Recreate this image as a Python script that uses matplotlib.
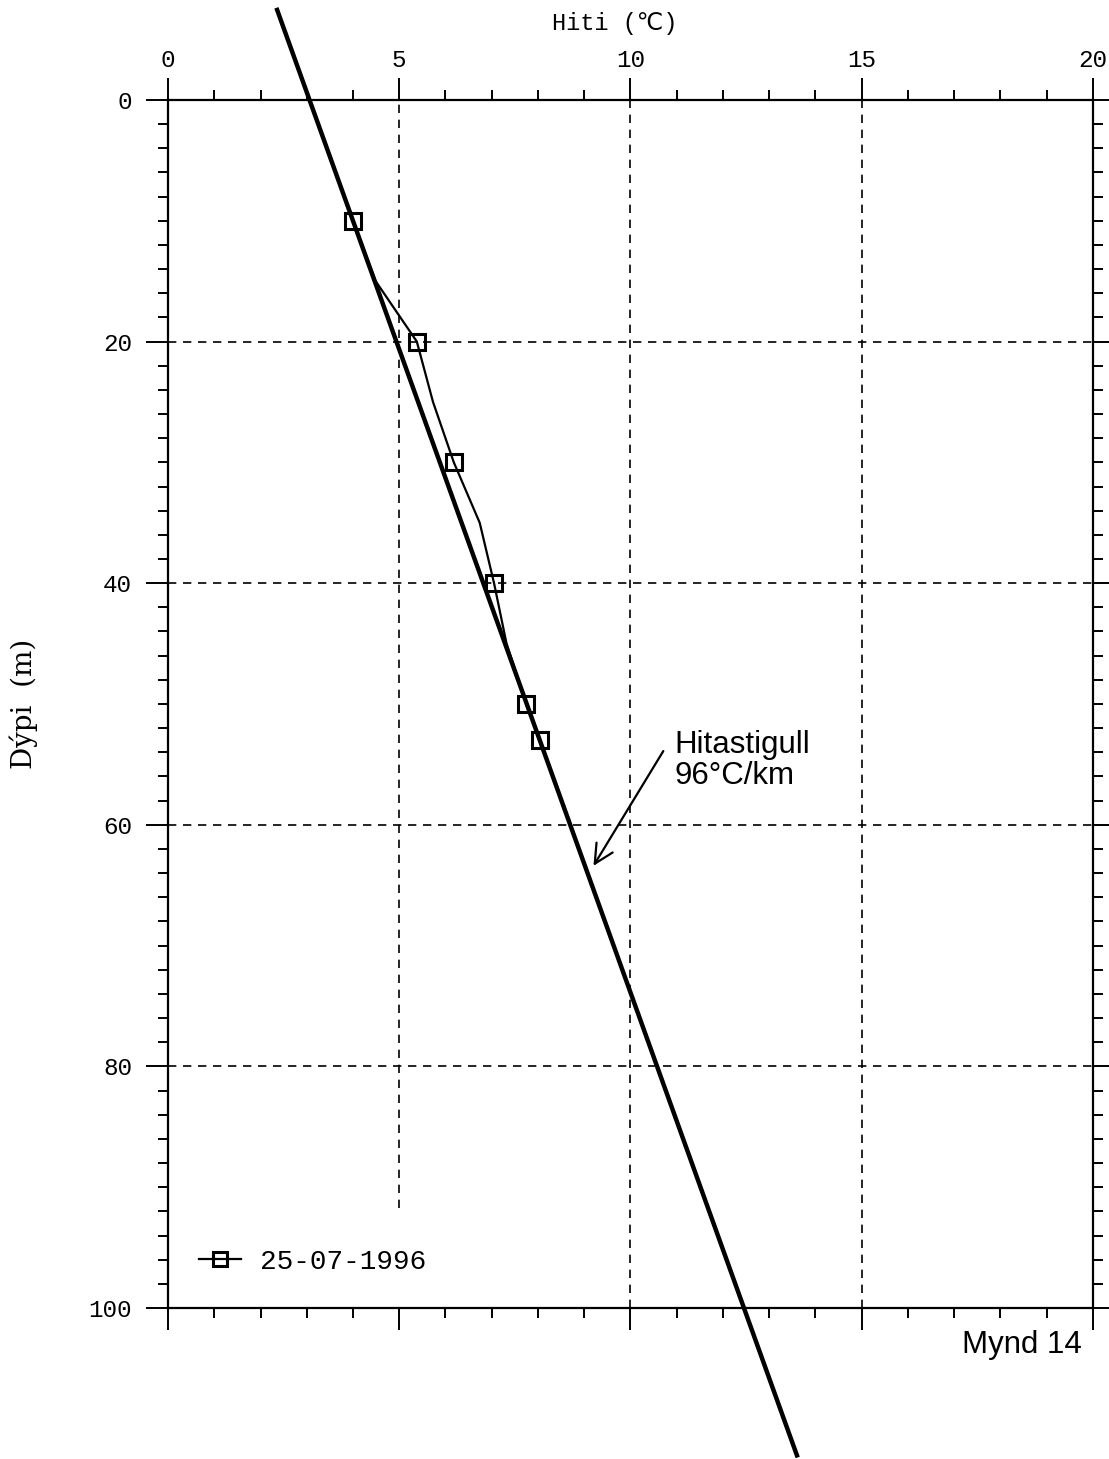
import matplotlib
matplotlib.use("Agg")
import matplotlib.pyplot as plt
from matplotlib.ticker import MultipleLocator

# measured temperature log (depth m, temperature degC)
depth_line = [10, 15, 20, 25, 30, 35, 40, 45, 50, 53]
temp_line = [4.00, 4.49, 5.38, 5.73, 6.18, 6.74, 7.05, 7.32, 7.75, 8.05]
depth_pts = [10, 20, 30, 40, 50, 53]
temp_pts = [4.00, 5.38, 6.18, 7.05, 7.75, 8.05]

# gradient line (96 C/km), end points
grad_depth = [-7.45, 112.2]
grad_temp = [2.36, 13.6]

x_ticks = [0, 5, 10, 15, 20]
y_ticks = [0, 20, 40, 60, 80, 100]
x_grid = [5, 10, 15]
y_grid = [20, 40, 60, 80]

mono = ["Liberation Mono", "DejaVu Sans Mono", "DejaVu Sans"]

fig = plt.figure(figsize=(11.09, 14.59), dpi=100)
ax = fig.add_axes([0.1515, 0.1035, 0.834, 0.828])

ax.set_xlim(0, 20)
ax.set_ylim(100, 0)

# grid (the 5 degree line stops above the legend)
for x in x_grid:
    top = 0.083 if x == 5 else 0.0
    ax.axvline(x, ymin=top, ymax=1, color="black", lw=1.2, ls=(0, (5, 4)), zorder=1)
for y in y_grid:
    ax.axhline(y, color="black", lw=1.2, ls=(0, (5, 4)), zorder=1)

# gradient line
ax.plot(grad_temp, grad_depth, color="black", lw=3.2, clip_on=False, zorder=3)

# measured data
ax.plot(temp_line, depth_line, color="black", lw=1.6, zorder=4)
ax.plot(temp_pts, depth_pts, ls="none", marker="s", ms=11, mfc="none",
        mec="black", mew=2.2, zorder=5)
h, = ax.plot([], [], color="black", lw=1.6, marker="s", ms=10, mfc="none",
             mec="black", mew=2.2)
leg = ax.legend([h], ["25-07-1996"], loc="center left",
                bbox_to_anchor=(0.019, 0.038), frameon=False, borderpad=0,
                handlelength=1.5, handletextpad=0.68,
                prop={"family": mono, "size": 20})

# annotation
ax.text(10.95, 54.7, "Hitastigull\n96°C/km", fontsize=22.5,
        family="Liberation Sans", ha="left", va="center", linespacing=1.05)
ax.annotate("", xy=(9.2, 63.4), xytext=(10.71, 53.9),
            arrowprops=dict(arrowstyle="->,head_length=0.4,head_width=0.2",
                            color="black", lw=1.6, mutation_scale=34,
                            shrinkA=0, shrinkB=0))

# axes styling
ax.xaxis.tick_top()
ax.xaxis.set_label_position("top")
ax.set_xticks(x_ticks)
ax.set_yticks(y_ticks)
ax.xaxis.set_minor_locator(MultipleLocator(1))
ax.yaxis.set_minor_locator(MultipleLocator(2))
ax.tick_params(which="major", direction="out", length=16, width=1.4,
               top=True, bottom=True, left=True, right=True,
               labeltop=True, labelbottom=False, labelleft=True,
               labelright=False, labelsize=17.5)
ax.tick_params(axis="x", which="major", pad=4)
ax.tick_params(axis="y", which="major", pad=10)
ax.tick_params(which="minor", direction="out", length=7, width=1.4,
               top=True, bottom=True, left=True, right=True)
for lab in ax.get_xticklabels() + ax.get_yticklabels():
    lab.set_family(mono)
for s in ax.spines.values():
    s.set_linewidth(1.6)

ax.set_xlabel("Hiti (℃)", family=mono, fontsize=17, labelpad=14)
ax.xaxis.label.set_x(0.483)
ax.set_ylabel("Dýpi  (m)", family="DejaVu Serif", fontsize=20)
ax.yaxis.set_label_coords(-0.1405, 0.5)

fig.text(0.9757, 0.078, "Mynd 14", family="Liberation Sans", fontsize=22.5,
         ha="right", va="center")

fig.savefig("out.png", dpi=100)
